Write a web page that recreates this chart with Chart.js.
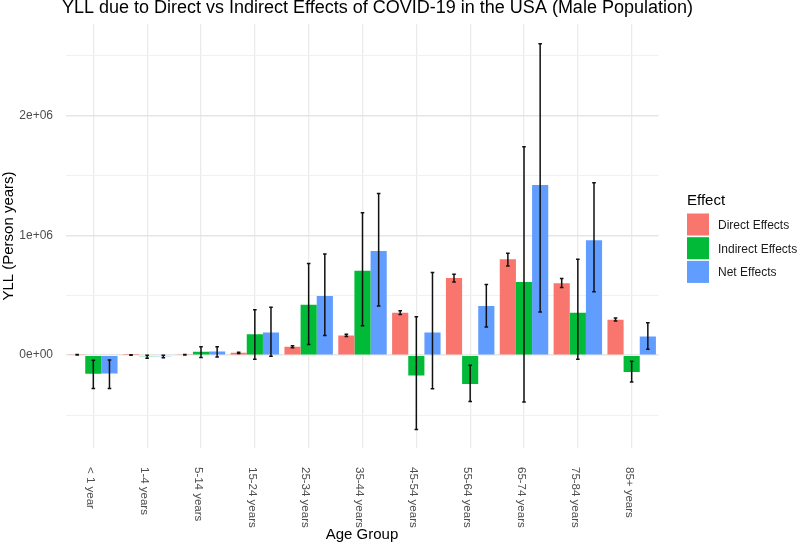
<!DOCTYPE html>
<html>
<head>
<meta charset="utf-8">
<script src="https://cdn.jsdelivr.net/npm/chart.js@4/dist/chart.umd.min.js"></script>
<style>
  body { margin: 0; background: #fff; }
  #wrap { width: 800px; height: 543px; position: relative; }
</style>
</head>
<body>
<div id="wrap"><canvas id="myChart"></canvas></div>
<script>
var ageGroups = ["< 1 year", "1-4 years", "5-14 years", "15-24 years", "25-34 years",
  "35-44 years", "45-54 years", "55-64 years", "65-74 years", "75-84 years", "85+ years"];
var effectNames = ["Direct Effects", "Indirect Effects", "Net Effects"];

// YLL values (person years)
var directYll = [3000, 2000, 4000, 20000, 70000, 165000, 355000, 645000, 800000, 600000, 295000];
var directLow = [1000, 0, 2000, 15000, 62000, 155000, 340000, 610000, 745000, 565000, 285000];
var directHigh = [5000, 4000, 6000, 25000, 78000, 175000, 370000, 675000, 850000, 640000, 310000];

var indirectYll = [-155000, -10000, 28000, 175000, 420000, 705000, -170000, -240000, 610000, 355000, -140000];
var indirectLow = [-278000, -25000, -20000, -35000, 90000, 245000, -620000, -387000, -390000, -35000, -225000];
var indirectHigh = [-42000, 0, 70000, 380000, 765000, 1190000, 320000, -85000, 1740000, 800000, -50000];

var netYll = [-152000, -8000, 30000, 190000, 495000, 870000, 190000, 410000, 1420000, 960000, 155000];
var netLow = [-278000, -22000, -15000, -10000, 165000, 410000, -280000, 235000, 360000, 530000, 50000];
var netHigh = [-40000, 0, 70000, 400000, 845000, 1350000, 690000, 590000, 2600000, 1440000, 270000];

var yTicks = [-500000, 0, 500000, 1000000, 1500000, 2000000, 2500000];

var effectColors = ["#F8766D", "#00BA38", "#619CFF"];
var lows = [directLow, indirectLow, netLow];
var highs = [directHigh, indirectHigh, netHigh];

var FONT = "'Liberation Sans', Arial, sans-serif";

function sciLabel(v) {
  if (v === 0) return "0e+00";
  if (v % 1000000 === 0) return (v / 1000000) + "e+06";
  return "";
}

// error bars on top of every bar
var errorBars = {
  id: "errorBars",
  afterDatasetsDraw: function (chart) {
    var ctx = chart.ctx;
    var y = chart.scales.y;
    ctx.save();
    ctx.strokeStyle = "#111";
    ctx.lineWidth = 1.5;
    chart.data.datasets.forEach(function (ds, i) {
      var meta = chart.getDatasetMeta(i);
      meta.data.forEach(function (bar, j) {
        var x = bar.x;
        var y1 = y.getPixelForValue(lows[i][j]);
        var y2 = y.getPixelForValue(highs[i][j]);
        ctx.beginPath();
        ctx.moveTo(x, y1);
        ctx.lineTo(x, y2);
        ctx.moveTo(x - 1.8, y1);
        ctx.lineTo(x + 1.8, y1);
        ctx.moveTo(x - 1.8, y2);
        ctx.lineTo(x + 1.8, y2);
        ctx.stroke();
      });
    });
    ctx.restore();
  },
};

// titles, rotated age labels and the legend
var textLayer = {
  id: "textLayer",
  afterDraw: function (chart) {
    var ctx = chart.ctx;
    var xs = chart.scales.x;
    ctx.save();
    ctx.fillStyle = "#000";
    ctx.font = "18px " + FONT;
    ctx.textAlign = "left";
    ctx.textBaseline = "alphabetic";
    ctx.fillText("YLL due to Direct vs Indirect Effects of COVID-19 in the USA (Male Population)", 62, 13);

    ctx.font = "15px " + FONT;
    ctx.textAlign = "center";
    ctx.fillText("Age Group", 362, 539);

    ctx.save();
    ctx.translate(9, 236);
    ctx.rotate(-Math.PI / 2);
    ctx.textBaseline = "middle";
    ctx.fillText("YLL (Person years)", 0, 0);
    ctx.restore();

    ctx.fillStyle = "#4d4d4d";
    ctx.font = "11.5px " + FONT;
    ageGroups.forEach(function (label, i) {
      ctx.save();
      ctx.translate(xs.getPixelForValue(i) - 3, 467);
      ctx.rotate(Math.PI / 2);
      ctx.textAlign = "left";
      ctx.textBaseline = "middle";
      ctx.fillText(label, 0, 0);
      ctx.restore();
    });

    ctx.fillStyle = "#000";
    ctx.font = "15px " + FONT;
    ctx.textAlign = "left";
    ctx.textBaseline = "alphabetic";
    ctx.fillText("Effect", 687, 205);
    ctx.font = "12px " + FONT;
    ctx.textBaseline = "middle";
    effectNames.forEach(function (name, i) {
      var top = 213.5 + i * 23.7;
      ctx.fillStyle = effectColors[i];
      ctx.fillRect(687, top, 22, 22);
      ctx.fillStyle = "#1a1a1a";
      ctx.fillText(name, 718, top + 12);
    });
    ctx.restore();
  },
};

var ctx = document.getElementById("myChart").getContext("2d");
var myChart = new Chart(ctx, {
  type: "bar",
  data: {
    labels: ageGroups,
    datasets: [
      { label: effectNames[0], data: directYll, backgroundColor: effectColors[0] },
      { label: effectNames[1], data: indirectYll, backgroundColor: effectColors[1] },
      { label: effectNames[2], data: netYll, backgroundColor: effectColors[2] },
    ],
  },
  options: {
    responsive: true,
    maintainAspectRatio: false,
    animation: false,
    categoryPercentage: 0.9,
    barPercentage: 1.0,
    layout: { padding: { top: 24, right: 141.4, left: 0, bottom: 0 } },
    plugins: {
      legend: { display: false },
      title: { display: false },
      tooltip: { enabled: false },
    },
    scales: {
      x: {
        offset: true,
        grid: { offset: false, color: "#ebebeb", lineWidth: 1.3, drawTicks: false },
        border: { display: false },
        ticks: { display: false },
        afterFit: function (scale) {
          scale.height = 95;
        },
      },
      y: {
        min: -775000,
        max: 2765000,
        grid: {
          drawTicks: false,
          color: function (c) {
            return c.tick && c.tick.value % 1000000 === 0 ? "#e6e6e6" : "#f1f1f1";
          },
          lineWidth: function (c) {
            return c.tick && c.tick.value % 1000000 === 0 ? 1.4 : 1;
          },
        },
        border: { display: false },
        afterBuildTicks: function (scale) {
          scale.ticks = yTicks.map(function (v) {
            return { value: v };
          });
        },
        ticks: {
          autoSkip: false,
          padding: 13.4,
          color: "#4d4d4d",
          font: { family: FONT, size: 12 },
          callback: function (v) {
            return sciLabel(v);
          },
        },
        afterFit: function (scale) {
          scale.width = 66.4;
        },
      },
    },
  },
  plugins: [errorBars, textLayer],
});
</script>
</body>
</html>
